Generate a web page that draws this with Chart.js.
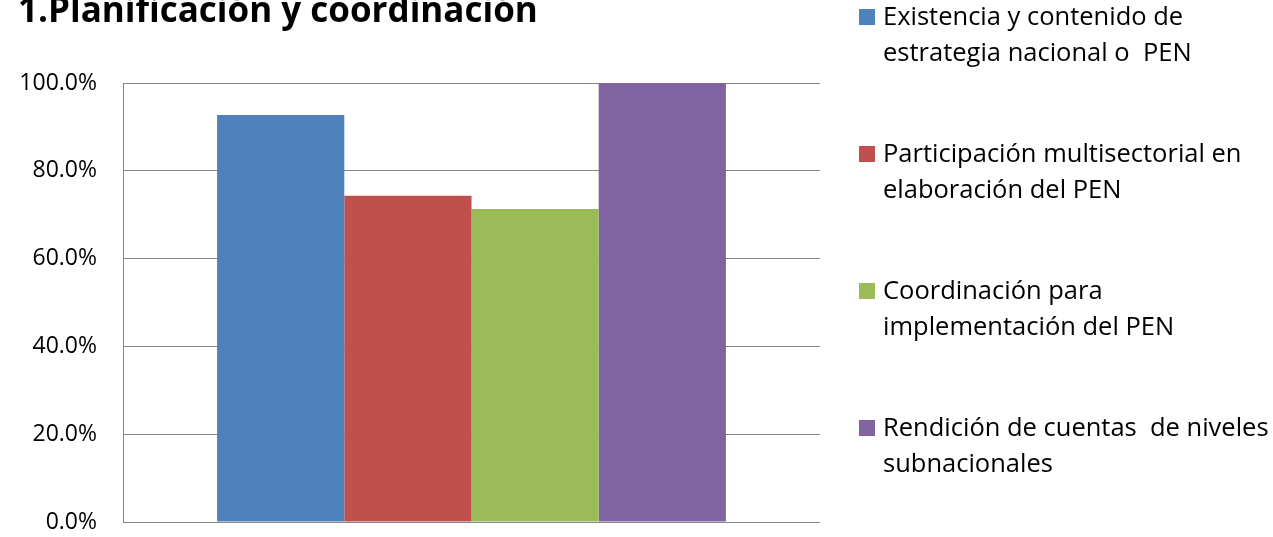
<!DOCTYPE html>
<html>
<head>
<meta charset="utf-8">
<script src="https://cdn.jsdelivr.net/npm/chart.js@4"></script>
<style>
  html, body { margin: 0; padding: 0; background: #fff; overflow: hidden; }
</style>
</head>
<body>
<canvas id="barChart" width="1273" height="537"></canvas>
<script>
// data
const chartTitle = '1.Planificación y coordinación';
const categories = [''];
const seriesNames = [
  ['Existencia y contenido de', 'estrategia nacional o  PEN'],
  ['Participación multisectorial en', 'elaboración del PEN'],
  ['Coordinación para', 'implementación del PEN'],
  ['Rendición de cuentas  de niveles', 'subnacionales']
];
const seriesValues = [92.7, 74.3, 71.3, 100];
const seriesColors = ['#4F81BD', '#C0504D', '#9BBB59', '#8064A2'];

const fontFamily = "'Open Sans', sans-serif";

// title + multi-line legend drawn by hand
const sidePlugin = {
  id: 'sidePlugin',
  afterDraw(chart) {
    const ctx = chart.ctx;
    const area = chart.chartArea;
    ctx.save();
    ctx.fillStyle = '#000';
    ctx.textBaseline = 'alphabetic';
    ctx.textAlign = 'left';
    ctx.font = 'bold 35px ' + fontFamily;
    ctx.fillText(chartTitle, 18, 22);

    ctx.font = '25.5px ' + fontFamily;
    ctx.textBaseline = 'middle';
    const x0 = area.right + 39;
    seriesNames.forEach((lines, i) => {
      const y = 17 + i * 137;
      ctx.fillStyle = seriesColors[i];
      ctx.fillRect(x0, y - 8, 16, 16);
      ctx.fillStyle = '#000';
      lines.forEach((t, j) => ctx.fillText(t, x0 + 24, y + 1 + j * 36));
    });
    ctx.restore();
  }
};

const chartEl = document.getElementById('barChart');
const myChart = new Chart(chartEl, {
  type: 'bar',
  data: {
    labels: categories,
    datasets: seriesNames.map((name, i) => ({
      label: name.join(' '),
      data: [seriesValues[i]],
      backgroundColor: seriesColors[i],
      borderWidth: 0,
      categoryPercentage: 0.73,
      barPercentage: 1
    }))
  },
  plugins: [sidePlugin],
  options: {
    responsive: false,
    animation: false,
    layout: {
      padding: { top: 83, right: 453, bottom: 15, left: 0 }
    },
    plugins: {
      legend: { display: false },
      tooltip: { enabled: false }
    },
    scales: {
      x: {
        display: false
      },
      y: {
        min: 0,
        max: 100,
        ticks: {
          stepSize: 20,
          padding: 26,
          color: '#000',
          font: { family: fontFamily, size: 23 },
          callback: v => v.toFixed(1) + '%'
        },
        grid: { color: '#868686', lineWidth: 1, drawTicks: false },
        border: { display: true, color: '#868686', width: 1 },
        afterFit(scale) {
          scale.width = 123;
          scale.paddingTop = 0;
          scale.paddingBottom = 0;
        }
      }
    }
  }
});
</script>
</body>
</html>
